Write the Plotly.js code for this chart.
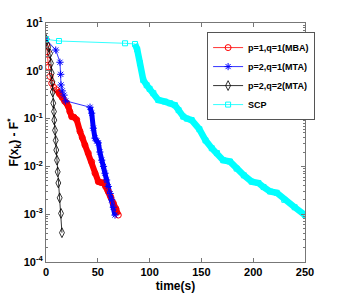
<!DOCTYPE html>
<html>
<head>
<meta charset="utf-8">
<script src="https://cdn.plot.ly/plotly-3.0.1.min.js"></script>
<style>html,body{margin:0;padding:0;background:#fff;}#chart{width:338px;height:300px;}</style>
</head>
<body>
<div id="chart"></div>
<script>
// p=1,q=1 (MBA)
var mbaT = [0, 0.5, 1, 1.4, 2.4, 3.9, 5.5, 7.5, 10.3, 13, 15.5, 18, 20, 21.5, 23, 24.8, 27, 29.6, 32.8, 35, 37.6, 40.8, 44.1, 47.3, 50.5, 53, 55.3, 57.5, 60.1, 62.5, 65, 67.5, 69.8];
var mbaV = [4.6, 3.5, 2.5, 1.7, 1.2, 0.76, 0.55, 0.45, 0.40, 0.33, 0.28, 0.23, 0.21, 0.18, 0.14, 0.11, 0.107, 0.095, 0.054, 0.04, 0.028, 0.019, 0.0125, 0.0072, 0.0048, 0.0046, 0.0045, 0.0038, 0.0030, 0.0023, 0.0017, 0.0013, 0.00096];
// p=2,q=1 (MTA)
var mta1T = [0, 9.4, 13.5, 14.2, 14.5, 15.7, 17.4, 19, 42.5, 44.1, 45.7, 47.3, 49, 50.5, 52, 53.8, 55.5, 57, 58.5, 60.1, 62, 63.4, 65, 66.6];
var mta1V = [4.57, 2.72, 1.51, 0.845, 0.505, 0.38, 0.31, 0.235, 0.173, 0.13, 0.063, 0.039, 0.034, 0.031, 0.02, 0.0135, 0.01, 0.0072, 0.0052, 0.0038, 0.0027, 0.0020, 0.0014, 0.00096];
// p=2,q=2 (MTA)
var mta2T = [0, 2.2, 3.9, 4.8, 5.5, 6.1, 6.5, 7.0, 7.7, 8.0, 8.7, 9.4, 9.9, 10.6, 11.3, 11.9, 13.2, 14.5, 15.4];
var mta2V = [4.57, 3.2, 2.3, 1.44, 0.89, 0.59, 0.36, 0.21, 0.14, 0.093, 0.057, 0.035, 0.022, 0.0135, 0.0077, 0.0045, 0.0022, 0.00104, 0.00041];
// SCP
var scpT = [0, 12.5, 76.3, 85.9, 88, 90.7, 93.9, 97.2, 100, 103.6, 108.4, 114.9, 119.7, 124.5, 128, 132.5, 136, 140.6, 148, 154, 160, 165, 171, 177.6, 184, 191, 198.5, 205, 210, 216.2, 222.7, 230, 240, 250];
var scpV = [4.57, 4.2, 3.76, 3.64, 2.8, 1.44, 0.64, 0.50, 0.42, 0.34, 0.245, 0.226, 0.21, 0.19, 0.15, 0.11, 0.1, 0.093, 0.06, 0.035, 0.024, 0.019, 0.0135, 0.0126, 0.009, 0.0065, 0.0048, 0.0045, 0.0037, 0.0030, 0.0028, 0.002, 0.0014, 0.00096];

var names = ['p=1,q=1(MBA)', 'p=2,q=1(MTA)', 'p=2,q=2(MTA)', 'SCP'];
var xTicks = [0, 50, 100, 150, 200, 250];
var yTicks = [1e-4, 1e-3, 1e-2, 1e-1, 1, 10];
var yTickText = ['10<sup>-4</sup>', '10<sup>-3</sup>', '10<sup>-2</sup>', '10<sup>-1</sup>', '10<sup>0</sup>', '10<sup>1</sup>'];

var RED = '#ff0000', BLUE = '#0000ff', BLACK = '#000000', CYAN = '#00ffff';

function band(t, v, from, color, w) {
  return {x: t.slice(from), y: v.slice(from), mode: 'lines', showlegend: false, hoverinfo: 'skip',
          line: {color: color, width: w}};
}

var traces = [
  band(mbaT, mbaV, 8, RED, 6),
  band(mta1T, mta1V, 8, BLUE, 5),
  band(scpT, scpV, 3, CYAN, 6.5),
  {x: mbaT, y: mbaV, name: names[0], mode: 'lines+markers',
   line: {color: RED, width: 0.8},
   marker: {symbol: 'circle-open', size: 6, color: RED, line: {color: RED, width: 1}}},
  {x: mta1T, y: mta1V, name: names[1], mode: 'lines+markers',
   line: {color: BLUE, width: 0.8},
   marker: {symbol: 'asterisk-open', size: 6, color: BLUE, line: {color: BLUE, width: 1}}},
  {x: mta2T, y: mta2V, name: names[2], mode: 'lines+markers',
   line: {color: BLACK, width: 0.8},
   marker: {symbol: 'diamond-tall-open', size: 7, color: BLACK, line: {color: BLACK, width: 0.8}}},
  {x: scpT, y: scpV, name: names[3], mode: 'lines+markers',
   line: {color: CYAN, width: 0.8},
   marker: {symbol: 'square-open', size: 5, color: CYAN, line: {color: CYAN, width: 1}}}
];

var FONT = 'Liberation Sans, Arial, Helvetica, sans-serif';
var AX = '#777777';

var layout = {
  width: 338, height: 300,
  margin: {l: 46, r: 33, t: 23, b: 38, pad: 0},
  paper_bgcolor: '#ffffff', plot_bgcolor: '#ffffff',
  font: {family: FONT, size: 11, color: '#000', weight: 'bold'},
  showlegend: true,
  legend: {x: 0.622, y: 0.962, xanchor: 'left', yanchor: 'top',
           bgcolor: '#ffffff', bordercolor: '#555', borderwidth: 1,
           itemwidth: 30,
           font: {family: FONT, size: 9, color: '#000', weight: 'bold'},
           tracegroupgap: 0},
  xaxis: {
    range: [0, 250], tickmode: 'array', tickvals: xTicks,
    ticks: 'inside', ticklen: 4, tickcolor: AX, tickwidth: 1,
    showline: true, linecolor: AX, linewidth: 1, mirror: 'ticks',
    showgrid: false, zeroline: false,
    tickfont: {family: FONT, size: 11, color: '#000', weight: 'bold'},
    title: {text: 'time(s)', font: {family: FONT, size: 12, color: '#000', weight: 'bold'}, standoff: 4}
  },
  yaxis: {
    type: 'log', range: [-4, 1], tickmode: 'array', tickvals: yTicks, ticktext: yTickText,
    ticks: 'inside', ticklen: 4, tickcolor: AX, tickwidth: 1,
    minor: {ticks: 'inside', ticklen: 2, tickcolor: AX, dtick: 'D1', showgrid: false},
    showline: true, linecolor: AX, linewidth: 1, mirror: 'ticks',
    showgrid: false, zeroline: false,
    tickfont: {family: FONT, size: 11, color: '#000', weight: 'bold'},
    title: {text: 'F(x<sub>k</sub>) - F<sup>*</sup>', font: {family: FONT, size: 12, color: '#000', weight: 'bold'}, standoff: 2}
  }
};

Plotly.newPlot('chart', traces, layout, {displayModeBar: false, staticPlot: true});
</script>
</body>
</html>
